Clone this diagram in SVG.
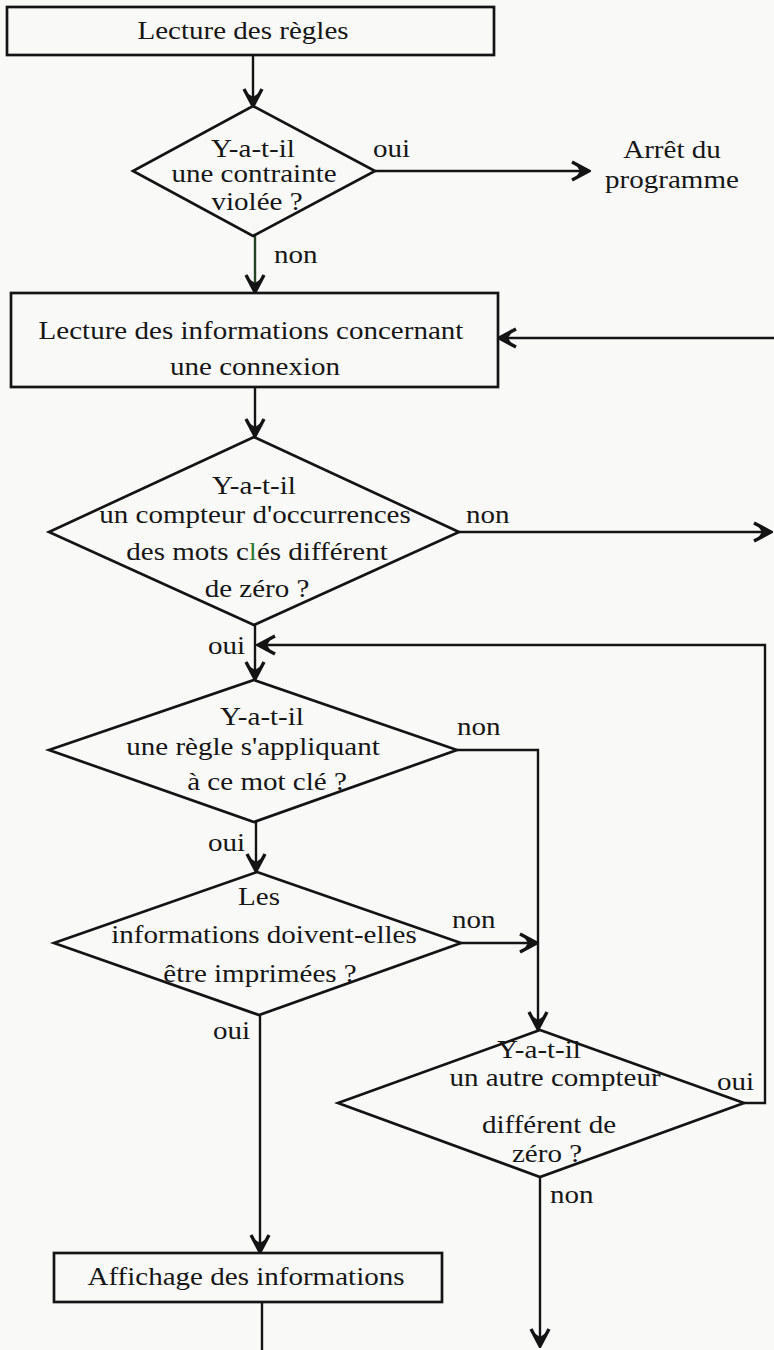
<svg xmlns="http://www.w3.org/2000/svg" width="774" height="1350" viewBox="0 0 774 1350">
  <style>
    .shape { fill: none; stroke: #141414; stroke-width: 2.7; stroke-linejoin: miter; }
    .conn { fill: none; stroke: #141414; stroke-width: 2.4; }
    .t { font-family: "Liberation Serif", "Times New Roman", serif; font-size: 24.5px; fill: #161616; text-anchor: middle; }
    .l { font-family: "Liberation Serif", "Times New Roman", serif; font-size: 24.5px; fill: #161616; }
    .end { text-anchor: end; }
  </style>
  <defs>
    <!-- barbed arrowhead: heavy chevron with a filled core at the tip -->
    <marker id="arrow" markerUnits="userSpaceOnUse" viewBox="-20 -12 22 24" refX="0" refY="0" markerWidth="22" markerHeight="24" orient="auto">
      <path d="M-17,-9 L0,0 L-17,9" fill="none" stroke="#141414" stroke-width="3.4" stroke-linejoin="miter"/>
      <path d="M0,0 L-14,-7.4 L-9,0 L-14,7.4 Z" fill="#141414"/>
    </marker>
  </defs>

  <rect x="0" y="0" width="774" height="1350" fill="#f9f9f7"/>

  <!-- connectors -->
  <g id="connectors">
    <path class="conn" d="M253,55 V106" marker-end="url(#arrow)"/>
    <path class="conn" d="M375,171 H589" marker-end="url(#arrow)"/>
    <path class="conn" d="M255,236 V292" style="stroke:#234423" marker-end="url(#arrow)"/>
    <path class="conn" d="M776,338 H499" marker-end="url(#arrow)"/>
    <path class="conn" d="M255,387 V436" marker-end="url(#arrow)"/>
    <path class="conn" d="M459,532 H771" marker-end="url(#arrow)"/>
    <path class="conn" d="M255,625 V679" marker-end="url(#arrow)"/>
    <path class="conn" d="M744,1103 H765 V645 H258" marker-end="url(#arrow)"/>
    <path class="conn" d="M457,750 H538 V1029" marker-end="url(#arrow)"/>
    <path class="conn" d="M461,943 H537" marker-end="url(#arrow)"/>
    <path class="conn" d="M256,822 V871" marker-end="url(#arrow)"/>
    <path class="conn" d="M260,1015 V1252" marker-end="url(#arrow)"/>
    <path class="conn" d="M262,1302 V1352"/>
    <path class="conn" d="M540,1177 V1346" marker-end="url(#arrow)"/>
  </g>

  <!-- branch labels -->
  <g id="labels">
    <text class="l" transform="translate(373,157) scale(1.185,1)">oui</text>
    <text class="l" transform="translate(274,263) scale(1.185,1)">non</text>
    <text class="l" transform="translate(466,523) scale(1.185,1)">non</text>
    <text class="l end" transform="translate(245,654) scale(1.185,1)">oui</text>
    <text class="l" transform="translate(457,735) scale(1.185,1)">non</text>
    <text class="l end" transform="translate(245,851) scale(1.185,1)">oui</text>
    <text class="l" transform="translate(452,928) scale(1.185,1)">non</text>
    <text class="l end" transform="translate(250,1039) scale(1.185,1)">oui</text>
    <text class="l" transform="translate(717,1090) scale(1.185,1)">oui</text>
    <text class="l" transform="translate(550,1203) scale(1.185,1)">non</text>
  </g>

  <g id="lecture-regles">
    <rect class="shape" x="7" y="7" width="487" height="48"/>
    <text class="t" transform="translate(243,39) scale(1.185,1)">Lecture des règles</text>
  </g>

  <g id="contrainte-violee">
    <polygon class="shape" points="253,106 375,171 253,236 133,171"/>
    <text class="t" transform="translate(253,157) scale(1.185,1)">Y-a-t-il</text>
    <text class="t" transform="translate(254,182) scale(1.185,1)">une contrainte</text>
    <text class="t" transform="translate(257,210) scale(1.185,1)">violée ?</text>
  </g>

  <g id="arret">
    <text class="t" transform="translate(672,158) scale(1.185,1)">Arrêt du</text>
    <text class="t" transform="translate(672,188) scale(1.185,1)">programme</text>
  </g>

  <g id="lecture-connexion">
    <rect class="shape" x="11" y="293" width="487" height="94"/>
    <text class="t" transform="translate(251,339) scale(1.185,1)">Lecture des informations concernant</text>
    <text class="t" transform="translate(255,375) scale(1.185,1)">une connexion</text>
  </g>

  <g id="compteur-occurrences">
    <polygon class="shape" points="254,437 459,532 254,625 49,532"/>
    <text class="t" transform="translate(254,494) scale(1.185,1)">Y-a-t-il</text>
    <text class="t" transform="translate(255,523) scale(1.185,1)">un compteur d'occurrences</text>
    <text class="t" transform="translate(257,560) scale(1.185,1)">des mots c<tspan fill="#2f7a2f">l</tspan>és différent</text>
    <text class="t" transform="translate(257,597) scale(1.185,1)">de zéro ?</text>
  </g>

  <g id="regle-mot-cle">
    <polygon class="shape" points="254,680 457,750 254,822 49,750"/>
    <text class="t" transform="translate(262,725) scale(1.185,1)">Y-a-t-il</text>
    <text class="t" transform="translate(253,755) scale(1.185,1)">une règle s'appliquant</text>
    <text class="t" transform="translate(267,790) scale(1.185,1)">à ce mot clé ?</text>
  </g>

  <g id="impression">
    <polygon class="shape" points="257,872 461,943 259,1015 54,943"/>
    <text class="t" transform="translate(259,905) scale(1.185,1)">Les</text>
    <text class="t" transform="translate(264,943) scale(1.185,1)">informations doivent-elles</text>
    <text class="t" transform="translate(260,982) scale(1.185,1)">être imprimées ?</text>
  </g>

  <g id="autre-compteur">
    <polygon class="shape" points="540,1030 744,1103 540,1177 338,1103"/>
    <text class="t" transform="translate(539,1058) scale(1.185,1)">Y-a-t-il</text>
    <text class="t" transform="translate(555,1086) scale(1.185,1)">un autre compteur</text>
    <text class="t" transform="translate(549,1133) scale(1.185,1)">différent de</text>
    <text class="t" transform="translate(547,1162) scale(1.185,1)">zéro ?</text>
  </g>

  <g id="affichage">
    <rect class="shape" x="54" y="1253" width="388" height="49"/>
    <text class="t" transform="translate(246,1285) scale(1.185,1)">Affichage des informations</text>
  </g>
</svg>
